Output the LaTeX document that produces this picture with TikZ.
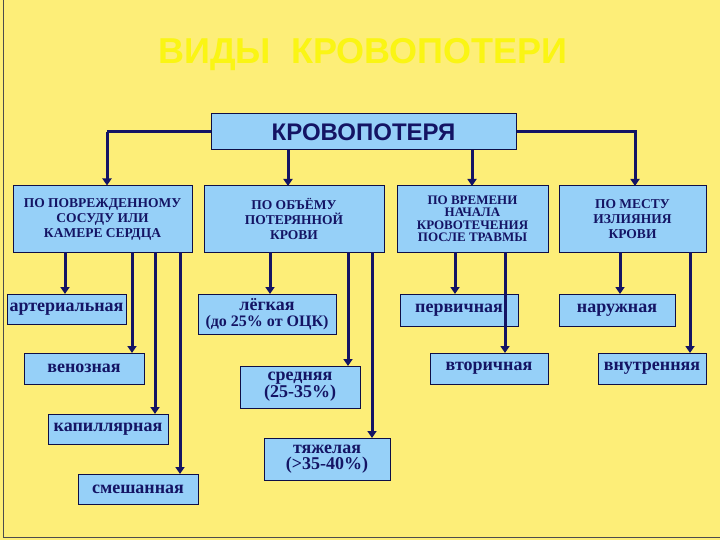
\documentclass[tikz,border=0pt]{standalone}
\usepackage{fontspec}
\setmainfont{Liberation Serif}
\newfontfamily\sansf{Liberation Sans}
\usetikzlibrary{arrows.meta}
\definecolor{bg}{RGB}{253,238,120}
\definecolor{bx}{RGB}{150,208,248}
\definecolor{nv}{RGB}{20,20,100}
\definecolor{ttl}{RGB}{250,245,20}
\begin{document}
\begin{tikzpicture}[x=1pt,y=-1pt,
 box/.style={draw=nv!70!black,line width=1pt,fill=bx,text=nv,font=\bfseries,align=center,inner sep=0pt},
 hd/.style={box,font=\bfseries\fontsize{13.5}{15}\selectfont},
 it/.style={box,font=\bfseries\fontsize{18}{16}\selectfont},
 ar/.style={draw=nv,line width=3pt,-{Triangle[length=7pt,width=9pt]}}]
\useasboundingbox (0,0) rectangle (720,540);
\fill[bg] (0,0) rectangle (720,540);
\draw[black!70,line width=1pt] (3,0) -- (3,537) -- (720,537);
\node[text=ttl,font=\sansf\bfseries\fontsize{36}{36}\selectfont] (t) at (363,55) {ВИДЫ\ \ КРОВОПОТЕРИ};
\newcommand\bxn[6]{\node[#1,minimum width=#4-#2,minimum height=#5-#3] (#6) at ({(#2+#4)/2},{(#3+#5)/2})}
\bxn{box,font=\sansf\bfseries\fontsize{24}{24}\selectfont}{211}{114}{516}{150}{top} {КРОВОПОТЕРЯ};
\bxn{hd}{13}{186}{192}{252}{A} {ПО ПОВРЕЖДЕННОМУ\\СОСУДУ ИЛИ\\КАМЕРЕ СЕРДЦА};
\bxn{hd}{204}{186}{384}{252}{B} {ПО ОБЪЁМУ\\ПОТЕРЯННОЙ\\КРОВИ};
\bxn{hd,font=\bfseries\fontsize{13}{12.5}\selectfont}{397}{186}{548}{252}{C} {ПО ВРЕМЕНИ\\НАЧАЛА\\КРОВОТЕЧЕНИЯ\\ПОСЛЕ ТРАВМЫ};
\bxn{hd}{559}{186}{706}{252}{D} {ПО МЕСТУ\\ИЗЛИЯНИЯ\\КРОВИ};
\bxn{it}{7}{294}{126}{324}{a1} {артериальная};
\bxn{it}{24}{353}{144}{384}{a2} {венозная};
\bxn{it}{48}{414}{168}{444}{a3} {капиллярная};
\bxn{it}{78}{474}{198}{504}{a4} {смешанная};
\bxn{it}{198}{294}{336}{334}{b1} {лёгкая\\{\fontsize{16}{15}\selectfont(до 25\% от ОЦК)}};
\bxn{it}{240}{366}{360}{408}{b2} {средняя\\(25-35\%)};
\bxn{it}{264}{438}{390}{480}{b3} {тяжелая\\(>35-40\%)};
\bxn{it}{400}{294}{518}{326}{c1} {первичная};
\bxn{it}{430}{353}{548}{384}{c2} {вторичная};
\bxn{it}{559}{294}{675}{326}{d1} {наружная};
\bxn{it}{598}{353}{706}{384}{d2} {внутренняя};
\coordinate (pl) at (107,132);
\coordinate (pr) at (635,132);
\draw[draw=nv,line width=3pt] (top.west|-pl) -- (pl);
\draw[ar] (pl) -- (pl|-A.north);
\draw[ar] (288,150) -- (288,186);
\draw[draw=nv,line width=3pt] (top.east|-pr) -- (pr);
\draw[ar] (472,150) -- (472,186);
\draw[ar] (635,130.5) -- (635,186);
\draw[ar] (65,252) -- (65,294);
\draw[ar] (132,252) -- (132,353);
\draw[ar] (155,252) -- (155,414);
\draw[ar] (180,252) -- (180,474);
\draw[ar] (270,252) -- (270,294);
\draw[ar] (348,252) -- (348,366);
\draw[ar] (372,252) -- (372,438);
\draw[ar] (455,252) -- (455,294);
\draw[ar] (505,252) -- (505,353);
\draw[ar] (620,252) -- (620,294);
\draw[ar] (690,252) -- (690,353);
\end{tikzpicture}
\end{document}
